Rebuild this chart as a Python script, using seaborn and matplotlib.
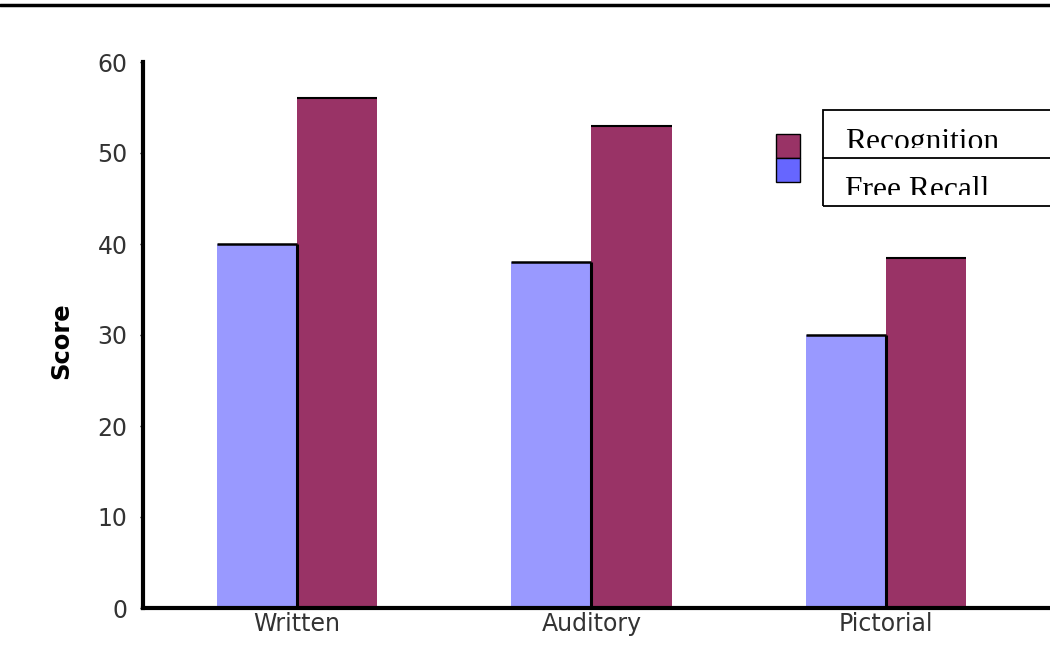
import matplotlib
matplotlib.use("Agg")
import matplotlib.pyplot as plt
import seaborn as sns
import pandas as pd
from matplotlib.patches import Rectangle
from matplotlib.lines import Line2D
from matplotlib.transforms import Bbox, TransformedBbox

# ---- data ----
categories = ["Written", "Auditory", "Pictorial"]
series = ["Free Recall", "Recognition"]
free_recall = [40, 38, 30]
recognition = [56, 53, 38.5]
y_ticks = [0, 10, 20, 30, 40, 50, 60]

bar_colors = {"Free Recall": "#9999FF", "Recognition": "#993366"}
legend_colors = {"Free Recall": "#6666FF", "Recognition": "#993366"}

df = pd.DataFrame({
    "Condition": categories * 2,
    "Measure": [series[0]] * 3 + [series[1]] * 3,
    "Score": free_recall + recognition,
})

sns.set_theme(style="white")
plt.rcParams["font.family"] = ["DejaVu Sans"]

W, H = 1050, 660
fig = plt.figure(figsize=(W / 100, H / 100), dpi=100)
fig.patch.set_facecolor("white")

def fx(px):
    return px / W

def fy(py):
    return 1 - py / H

ax = fig.add_axes([fx(143), fy(608), 1 - fx(143), fy(62) - fy(608)])

sns.barplot(data=df, x="Condition", y="Score", hue="Measure",
            order=categories, hue_order=series, palette=bar_colors,
            width=0.544, gap=0, saturation=1, edgecolor="none",
            linewidth=0, legend=False, ax=ax)

# black edges on bars (top + shared edge), as in reference
for ci, cont in enumerate(ax.containers):
    for bar in cont:
        x0, w, h = bar.get_x(), bar.get_width(), bar.get_height()
        if ci == 0:
            ax.plot([x0, x0 + w], [h, h], color="black", lw=1.8,
                    solid_capstyle="butt", zorder=4)
            ax.plot([x0 + w, x0 + w], [0, h], color="black", lw=2.2,
                    solid_capstyle="butt", zorder=4)
        else:
            ax.plot([x0, x0 + w], [h, h], color="black", lw=1.5,
                    solid_capstyle="butt", zorder=4)

ax.set_xlim(-0.523, 2.557)
ax.set_ylim(0, 60)
ax.set_yticks(y_ticks)
ax.set_yticklabels([str(t) for t in y_ticks])

for s in ["top", "right"]:
    ax.spines[s].set_visible(False)
for s in ["left", "bottom"]:
    ax.spines[s].set_linewidth(3)
    ax.spines[s].set_color("black")
    ax.spines[s].set_capstyle("projecting")

ax.tick_params(axis="y", left=True, length=2, width=1, pad=9,
               labelsize=17, labelcolor="#333333", color="black")
ax.tick_params(axis="x", bottom=False, length=0, pad=3,
               labelsize=17, labelcolor="#333333")
ax.set_xlabel("")
ax.set_ylabel("Score", fontsize=17.5, fontweight="bold", color="black")
ax.yaxis.set_label_coords(-0.077, 0.49)
ax.grid(False)

# top rule
fig.add_artist(Line2D([0, 1], [fy(5), fy(5)], transform=fig.transFigure,
                      color="black", lw=2.5))

# ---- legend (manual, reproducing the clipped boxes) ----
fig.add_artist(Rectangle((fx(823), fy(206)), fx(1060) - fx(823),
                         fy(110) - fy(206), transform=fig.transFigure,
                         fill=False, edgecolor="black", lw=1.3))
fig.add_artist(Line2D([fx(823), 1], [fy(158), fy(158)],
                      transform=fig.transFigure, color="black", lw=1.3))

rows = [("Recognition", 134, 150, 111, 148),
        ("Free Recall", 158, 198, 159, 195)]
for name, sw_top, base, clip_top, clip_bot in rows:
    fig.add_artist(Rectangle((fx(776), fy(sw_top + 24)), fx(800) - fx(776),
                             fy(sw_top) - fy(sw_top + 24),
                             transform=fig.transFigure,
                             facecolor=legend_colors[name],
                             edgecolor="black", lw=1))
    t = fig.text(fx(845), fy(base), name, ha="left", va="baseline",
                 fontsize=22.7, family=["Liberation Serif", "DejaVu Serif"],
                 color="black")
    bb = TransformedBbox(Bbox.from_extents(fx(824), fy(clip_bot), 1.0,
                                           fy(clip_top)), fig.transFigure)
    t.set_clip_box(bb)
    t.set_clip_on(True)

fig.savefig("out.png", dpi=100, facecolor="white")
